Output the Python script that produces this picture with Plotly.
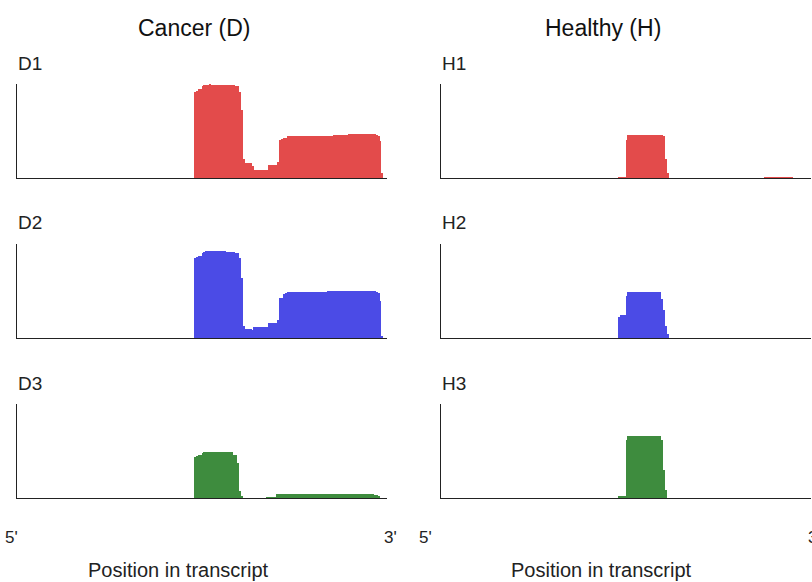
import plotly.graph_objects as go

# ---------------- data (coverage per transcript bin, normalized) ----------------
n_bins = 200  # transcript split into bins, 5' -> 3'

D1_start = 96
D1_cov = [
    0.91, 0.93, 0.947, 0.947, 0.975,
    0.99, 0.993, 0.993, 0.995, 0.993,
    0.993, 0.994, 0.993, 0.992, 0.993,
    0.993, 0.992, 0.991, 0.99, 0.99,
    0.99, 0.988, 0.975, 0.975, 0.92,
    0.727, 0.20, 0.16, 0.16, 0.16,
    0.155, 0.124, 0.089, 0.089, 0.089,
    0.089, 0.089, 0.089, 0.089, 0.089,
    0.135, 0.135, 0.135, 0.14, 0.14,
    0.167, 0.40, 0.41, 0.425, 0.43,
    0.443, 0.443, 0.443, 0.443, 0.443,
    0.443, 0.443, 0.443, 0.443, 0.443,
    0.443, 0.443, 0.444, 0.444, 0.444,
    0.444, 0.445, 0.445, 0.445, 0.445,
    0.446, 0.446, 0.447, 0.448, 0.45,
    0.454, 0.454, 0.454, 0.454, 0.454,
    0.455, 0.455, 0.456, 0.465, 0.465,
    0.465, 0.465, 0.465, 0.465, 0.465,
    0.465, 0.465, 0.465, 0.465, 0.465,
    0.465, 0.464, 0.463, 0.455, 0.443,
    0.39, 0.05,
]

D2_start = 96
D2_cov = [
    0.851, 0.86, 0.876, 0.876, 0.90,
    0.918, 0.922, 0.922, 0.923, 0.922,
    0.922, 0.923, 0.922, 0.921, 0.922,
    0.922, 0.921, 0.92, 0.92, 0.919,
    0.918, 0.916, 0.904, 0.904, 0.851,
    0.638, 0.124, 0.096, 0.096, 0.096,
    0.096, 0.082, 0.113, 0.113, 0.113,
    0.113, 0.113, 0.113, 0.113, 0.113,
    0.16, 0.16, 0.16, 0.16, 0.16,
    0.195, 0.425, 0.43, 0.472, 0.475,
    0.489, 0.489, 0.489, 0.489, 0.489,
    0.489, 0.489, 0.489, 0.49, 0.49,
    0.49, 0.49, 0.49, 0.491, 0.491,
    0.491, 0.492, 0.492, 0.492, 0.493,
    0.493, 0.494, 0.495, 0.496, 0.497,
    0.50, 0.50, 0.50, 0.50, 0.50,
    0.50, 0.50, 0.50, 0.50, 0.50,
    0.501, 0.501, 0.501, 0.501, 0.50,
    0.50, 0.50, 0.50, 0.50, 0.50,
    0.50, 0.499, 0.498, 0.485, 0.479,
    0.39, 0.025,
]

D3_start = 96
D3_cov = [
    0.436, 0.45, 0.454, 0.454, 0.48,
    0.49, 0.493, 0.493, 0.494, 0.493,
    0.493, 0.493, 0.494, 0.493, 0.493,
    0.492, 0.493, 0.493, 0.492, 0.491,
    0.49, 0.461, 0.461, 0.372, 0.071,
    0.025, 0, 0, 0, 0,
    0, 0, 0, 0, 0,
    0, 0, 0, 0, 0.01,
    0.01, 0.01, 0.01, 0.01, 0.042,
    0.042, 0.043, 0.043, 0.042, 0.043,
    0.043, 0.043, 0.044, 0.044, 0.044,
    0.044, 0.044, 0.045, 0.045, 0.045,
    0.045, 0.045, 0.045, 0.046, 0.046,
    0.046, 0.046, 0.046, 0.046, 0.046,
    0.047, 0.047, 0.047, 0.047, 0.047,
    0.047, 0.047, 0.047, 0.047, 0.047,
    0.046, 0.046, 0.046, 0.046, 0.046,
    0.046, 0.045, 0.045, 0.045, 0.045,
    0.045, 0.044, 0.044, 0.044, 0.044,
    0.043, 0.042, 0.032, 0.032, 0.02,
]

H1_start = 96
H1_cov = [
    0.01, 0.01, 0.01, 0.01, 0.40,
    0.461, 0.461, 0.461, 0.461, 0.461,
    0.461, 0.461, 0.461, 0.461, 0.461,
    0.461, 0.461, 0.461, 0.461, 0.461,
    0.461, 0.461, 0.461, 0.458, 0.443,
    0.202, 0.053,
]
H1_tail_start = 175
H1_tail = [0.007, 0.007, 0.007, 0.007, 0.007, 0.007, 0.007, 0.007,
           0.007, 0.007, 0.007, 0.007, 0.007, 0.007, 0.007]

H2_start = 96
H2_cov = [
    0.223, 0.248, 0.248, 0.248, 0.45,
    0.486, 0.486, 0.486, 0.486, 0.486,
    0.486, 0.486, 0.486, 0.486, 0.486,
    0.486, 0.486, 0.486, 0.486, 0.486,
    0.486, 0.486, 0.486, 0.415, 0.30,
    0.131, 0.046,
]

H3_start = 96
H3_cov = [
    0.018, 0.018, 0.018, 0.018, 0.62,
    0.656, 0.656, 0.656, 0.656, 0.656,
    0.656, 0.656, 0.656, 0.656, 0.656,
    0.656, 0.656, 0.656, 0.656, 0.656,
    0.656, 0.656, 0.656, 0.613, 0.294,
    0.089,
]

col_titles = ["Cancer (D)", "Healthy (H)"]
panel_labels = [["D1", "D2", "D3"], ["H1", "H2", "H3"]]
end_labels = ["5'", "3'"]
xlabel = "Position in transcript"

RED, BLUE, GREEN = "#e34b4b", "#4b4be6", "#3e8c3e"
row_colors = [RED, BLUE, GREEN]

# series: (col, row, start, values)
series = [
    (0, 0, D1_start, D1_cov), (0, 1, D2_start, D2_cov), (0, 2, D3_start, D3_cov),
    (1, 0, H1_start, H1_cov), (1, 0, H1_tail_start, H1_tail),
    (1, 1, H2_start, H2_cov), (1, 2, H3_start, H3_cov),
]

# ---------------- layout geometry (window pixels -> paper) ----------------
W, H = 812, 582
col_px = [(17, 387), (441, 811)]
row_px = [(84, 178), (244, 338), (404, 498)]

def px_x(p):
    return p / W

def px_y(p):
    return 1 - p / H

fig = go.Figure()
layout = dict(
    width=W, height=H, margin=dict(l=0, r=0, t=0, b=0),
    paper_bgcolor="white", plot_bgcolor="white",
    showlegend=False, bargap=0,
    font=dict(family="Liberation Sans, Arial, sans-serif", color="#222"),
)

def axis_index(c, r):
    return c * 3 + r + 1

for c in range(2):
    for r in range(3):
        i = axis_index(c, r)
        sx = "" if i == 1 else str(i)
        layout["xaxis" + sx] = dict(
            domain=[px_x(col_px[c][0]), min(1.0, px_x(col_px[c][1]))],
            anchor="y" + sx, range=[-0.5, n_bins - 0.5],
            showline=True, linecolor="#222", linewidth=1.2,
            showticklabels=False, ticks="", showgrid=False, zeroline=False,
            fixedrange=True,
        )
        layout["yaxis" + sx] = dict(
            domain=[px_y(row_px[r][1]), px_y(row_px[r][0])],
            anchor="x" + sx, range=[0, 1.0],
            showline=True, linecolor="#222", linewidth=1,
            showticklabels=False, ticks="", showgrid=False, zeroline=False,
            fixedrange=True,
        )

for c, r, start, vals in series:
    i = axis_index(c, r)
    sx = "" if i == 1 else str(i)
    xs = [start + k for k in range(len(vals))]
    fig.add_trace(go.Bar(
        x=xs, y=vals, xaxis="x" + sx, yaxis="y" + sx,
        width=1.0,
        marker=dict(color=row_colors[r], line=dict(width=0)),
        hoverinfo="skip",
    ))

ann = []
title_cx = [194, 603]
for c in range(2):
    ann.append(dict(text=col_titles[c], x=px_x(title_cx[c]), y=px_y(28),
                    xref="paper", yref="paper", xanchor="center", yanchor="middle",
                    showarrow=False, font=dict(size=23, color="#111")))
    for r in range(3):
        ann.append(dict(text=panel_labels[c][r], x=px_x(col_px[c][0] - 1),
                        y=px_y(row_px[r][0] - 21),
                        xref="paper", yref="paper", xanchor="left", yanchor="middle",
                        showarrow=False, font=dict(size=19, color="#222")))
end_cx = [[11, 390], [425, 814]]
xlabel_cx = [178, 601]
for c in range(2):
    for k in range(2):
        ann.append(dict(text=end_labels[k], x=px_x(end_cx[c][k]), y=px_y(537),
                        xref="paper", yref="paper", xanchor="center", yanchor="middle",
                        showarrow=False, font=dict(size=17, color="#222")))
    ann.append(dict(text=xlabel, x=px_x(xlabel_cx[c]), y=px_y(570),
                    xref="paper", yref="paper", xanchor="center", yanchor="middle",
                    showarrow=False, font=dict(size=20, color="#222")))

layout["annotations"] = ann
fig.update_layout(**layout)
fig.write_html(
    "out.html",
    config={"displayModeBar": False},
    post_script="document.body.style.margin='0';document.body.style.overflow='hidden';",
)
